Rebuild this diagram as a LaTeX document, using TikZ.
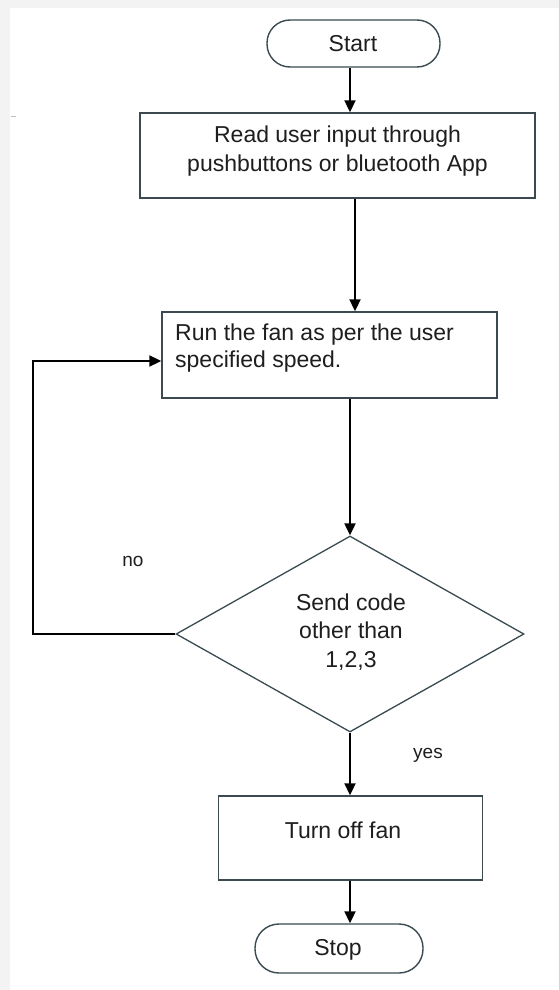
\documentclass[tikz,border=0pt]{standalone}
\usepackage{fontspec}
\setmainfont{Liberation Sans}
\usetikzlibrary{arrows.meta,shapes.geometric}
\definecolor{edgegray}{HTML}{3A4A50}
\definecolor{txt}{HTML}{1E1E1E}
\definecolor{bggray}{HTML}{F3F3F3}
\tikzset{
  box/.style={draw=edgegray, line width=1.4pt, fill=white, inner sep=0pt},
  term/.style={box, rounded corners=23pt},
  dec/.style={draw=edgegray, line width=1.3pt, diamond, inner sep=0pt, fill=white},
  lbl/.style={font=\fontsize{23}{28}\selectfont, text=txt, inner sep=0pt, anchor=base},
  small/.style={lbl, font=\fontsize{19}{22}\selectfont},
  arr/.style={line width=2pt, black, -{Triangle[length=12pt,width=11pt]}},
  ln/.style={line width=2pt, black}
}
\begin{document}
\begin{tikzpicture}[x=1pt,y=-1pt]
\fill[bggray] (0,0) rectangle (559,990);
\fill[white] (10,8) rectangle (559,990);
\useasboundingbox (0,0) rectangle (559,990);
\draw[gray!50, line width=0.8pt] (11,116) -- (16,116);

% nodes
\node[term, minimum width=173pt, minimum height=47pt] (start) at (353.5,43.5) {};
\node[lbl] (starttxt) at (353,52) {Start};

\node[box, minimum width=395pt, minimum height=85pt] (read) at (337.5,155.5) {};
\node[lbl] (readtxt1) at (337.5,142) {Read user input through};
\node[lbl] (readtxt2) at (337.5,171) {pushbuttons or bluetooth App};

\node[box, minimum width=335pt, minimum height=86pt] (run) at (329.5,355) {};
\node[lbl, anchor=base west] (runtxt1) at (175,340) {Run the fan as per the user};
\node[lbl, anchor=base west] (runtxt2) at (175,367) {specified speed.};

\node[dec, minimum width=348pt, minimum height=196pt, shape aspect=1.7755] (dec) at (350,634) {};
\node[lbl] (dectxt1) at (351,610) {Send code};
\node[lbl] (dectxt2) at (351,638) {other than};
\node[lbl] (dectxt3) at (351,667) {1,2,3};

\node[box, minimum width=264pt, minimum height=84pt] (off) at (350.5,838) {};
\node[lbl] (offtxt) at (343,838) {Turn off fan};

\node[term, rounded corners=24pt, minimum width=168pt, minimum height=49pt] (stop) at (339,948.5) {};
\node[lbl] (stoptxt) at (338,955) {Stop};

\node[small] (no) at (133,566) {no};
\node[small] (yes) at (428,758) {yes};

\coordinate (loopc) at (33,634);

% connectors
\draw[arr] ([xshift=-3.5pt]start.south) -- ([xshift=12.5pt]read.north);
\draw[arr] ([xshift=17.5pt]read.south) -- ([xshift=25.5pt]run.north);
\draw[arr] ([xshift=20.5pt]run.south) -- (dec.north);
\draw[arr] (dec.south) -- ([xshift=-0.5pt]off.north);
\draw[arr] ([xshift=-0.5pt]off.south) -- ([xshift=11pt]stop.north);
\draw[arr] (dec.west) -- (loopc) |- ([yshift=-6pt]run.west);
\end{tikzpicture}
\end{document}
